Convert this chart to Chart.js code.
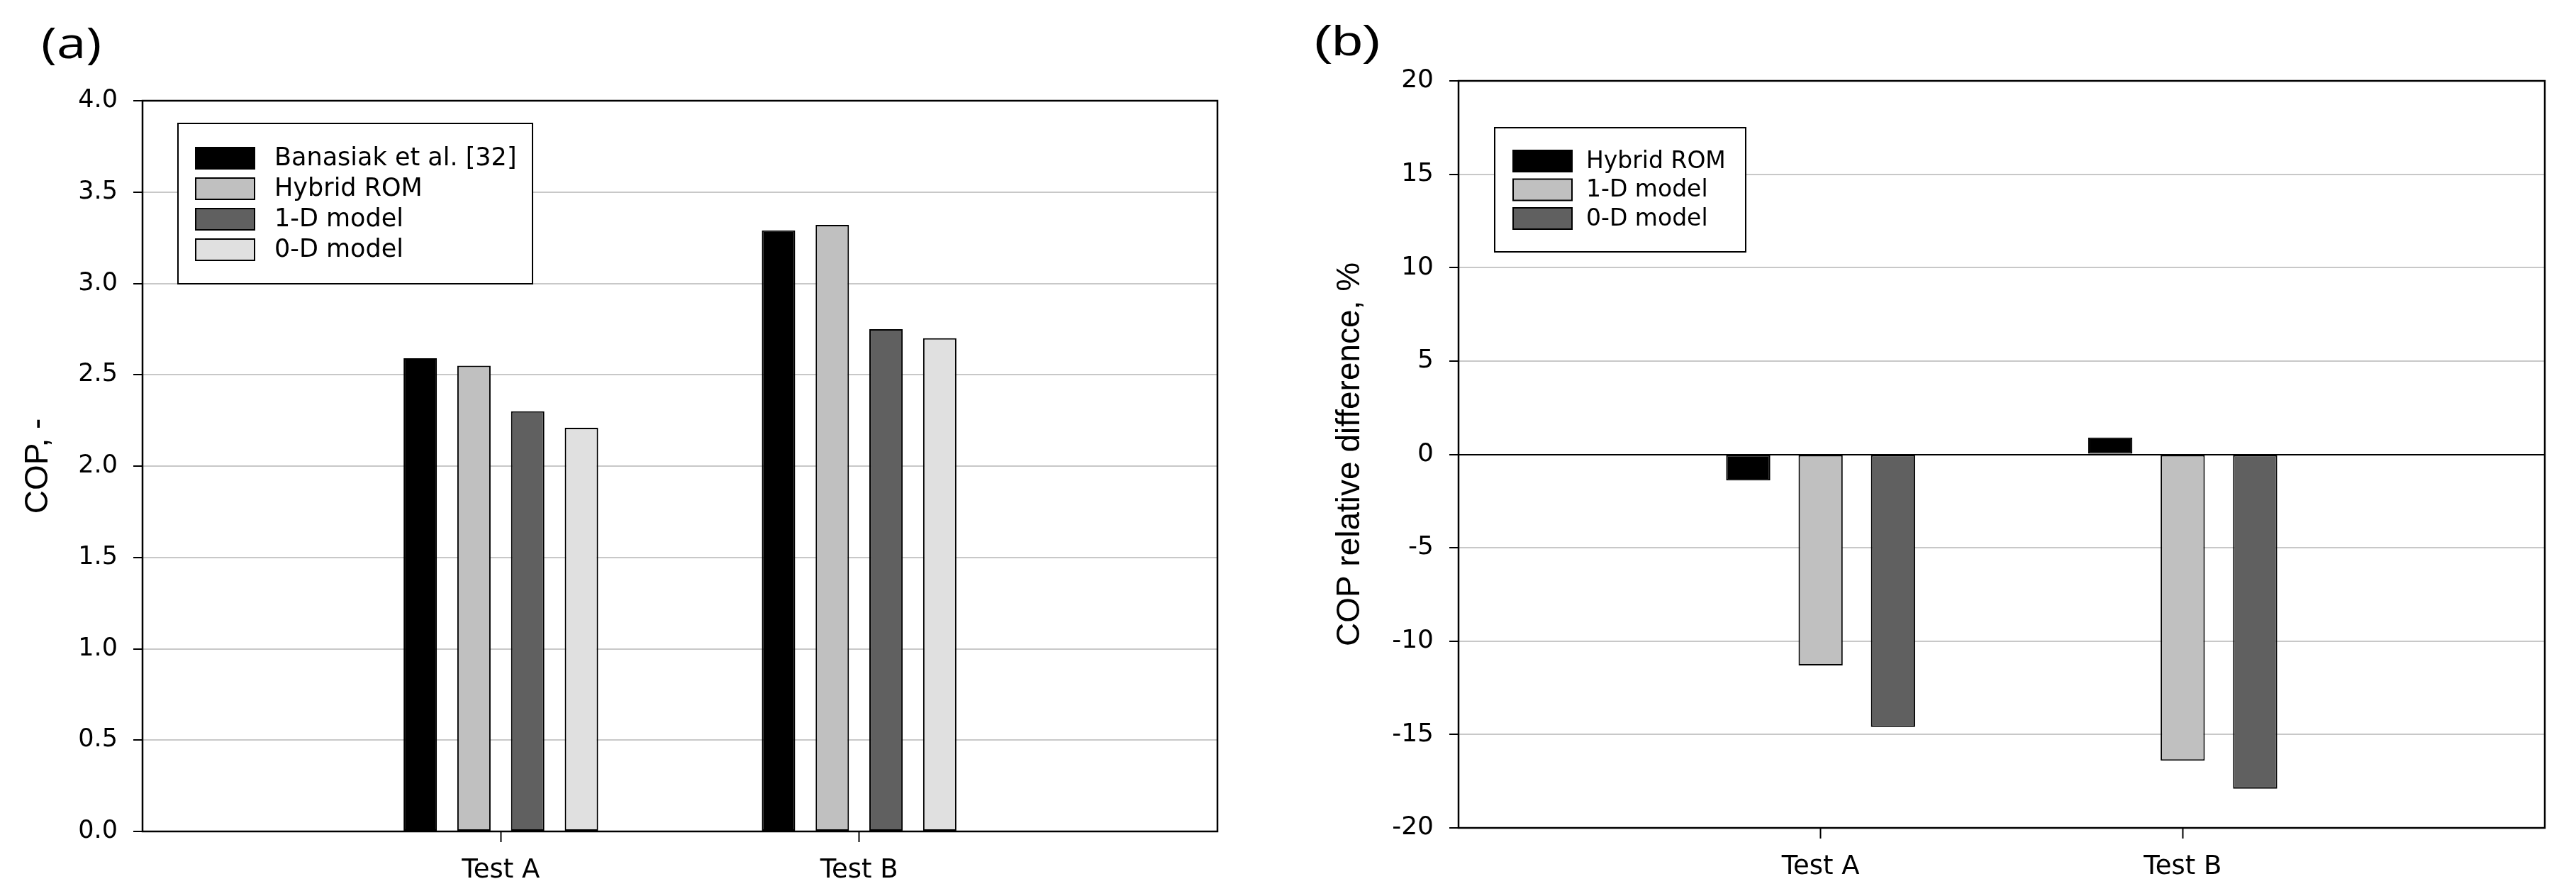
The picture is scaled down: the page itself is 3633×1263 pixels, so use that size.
<!DOCTYPE html>
<html>
<head>
<meta charset="utf-8">
<script src="https://cdn.jsdelivr.net/npm/chart.js@4.4.1/dist/chart.umd.min.js"></script>
<style>
  html, body { margin: 0; padding: 0; background: #fff; }
  #wrap { position: relative; width: 3633px; height: 1263px; }
  canvas { position: absolute; top: 0; }
</style>
</head>
<body>
<div id="wrap">
  <canvas id="chartA" width="1816" height="1263" style="left:0"></canvas>
  <canvas id="chartB" width="1817" height="1263" style="left:1816px"></canvas>
</div>
<script>
// data
const categories = ["Test A", "Test B"];

const seriesA = ["Banasiak et al. [32]", "Hybrid ROM", "1-D model", "0-D model"];
const copBanasiak = [2.59, 3.29];
const copHybrid = [2.55, 3.32];
const cop1D = [2.30, 2.75];
const cop0D = [2.21, 2.70];
const ticksA = [0, 0.5, 1.0, 1.5, 2.0, 2.5, 3.0, 3.5, 4.0];

const seriesB = ["Hybrid ROM", "1-D model", "0-D model"];
const diffHybrid = [-1.4, 0.9];
const diff1D = [-11.3, -16.4];
const diff0D = [-14.6, -17.9];
const ticksB = [-20, -15, -10, -5, 0, 5, 10, 15, 20];

// empty slots at both ends so the two groups sit at 1/3 and 2/3
const xLabels = ["", ...categories, ""];
const pad = arr => [null, ...arr, null];

const SANS = '"DejaVu Sans", "Liberation Sans", sans-serif';
Chart.defaults.font.family = SANS;
Chart.defaults.color = "#000";

// frame, legend box and panel letter
const panelDecor = {
  id: "panelDecor",
  afterDraw(chart, args, o) {
    const { ctx, chartArea: a } = chart;
    ctx.save();
    ctx.strokeStyle = "#000";
    ctx.lineWidth = 2.5;
    ctx.strokeRect(a.left, a.top, a.right - a.left, a.bottom - a.top);

    const bx = a.left + o.boxX, by = a.top + o.boxY;
    ctx.fillStyle = "#fff";
    ctx.fillRect(bx, by, o.boxW, o.boxH);
    ctx.lineWidth = 2;
    ctx.strokeRect(bx, by, o.boxW, o.boxH);
    ctx.font = o.fontSize + "px " + SANS;
    ctx.textBaseline = "middle";
    chart.data.datasets.forEach((ds, i) => {
      const y = by + o.rowTop + i * o.rowStep;
      ctx.fillStyle = ds.backgroundColor;
      ctx.fillRect(bx + o.swX, y, o.swW, o.swH);
      ctx.strokeRect(bx + o.swX, y, o.swW, o.swH);
      ctx.fillStyle = "#000";
      ctx.fillText(ds.label, bx + o.textX, y + o.swH / 2 + 1);
    });

    // panel letter, cut off top and bottom like the source figure
    ctx.beginPath();
    ctx.rect(0, o.tagClip[0], 400, o.tagClip[1] - o.tagClip[0]);
    ctx.clip();
    ctx.translate(o.tagX, o.tagY);
    ctx.scale(o.tagStretch, 1);
    ctx.font = o.tagFont;
    ctx.textBaseline = "alphabetic";
    ctx.fillText(o.tag, 0, 0);
    ctx.restore();
  }
};

function bar(label, values, color, barPct) {
  return {
    label: label,
    data: pad(values),
    backgroundColor: color,
    borderColor: "#000",
    borderWidth: 2,
    borderSkipped: false,
    categoryPercentage: 0.6,
    barPercentage: barPct
  };
}

function makeOptions(c) {
  return {
    responsive: false,
    maintainAspectRatio: false,
    devicePixelRatio: 1,
    animation: false,
    layout: { padding: { left: 0, top: c.top, right: c.right, bottom: 0 } },
    plugins: {
      legend: { display: false },
      tooltip: { enabled: false },
      panelDecor: c.decor
    },
    scales: {
      x: {
        offset: false,
        afterFit: s => { s.height = c.xHeight; },
        border: { display: false },
        grid: {
          offset: false,
          drawOnChartArea: false,
          tickLength: 15,
          tickWidth: 2,
          tickColor: ctx => (ctx.tick && ctx.tick.label) ? "#000" : "rgba(0,0,0,0)"
        },
        ticks: { font: { size: 37 }, padding: 18, maxRotation: 0, autoSkip: false }
      },
      y: {
        min: c.min,
        max: c.max,
        afterFit: s => { s.width = c.yWidth; },
        afterBuildTicks: s => { s.ticks = c.ticks.map(v => ({ value: v })); },
        border: { display: false },
        grid: {
          color: ctx => (ctx.tick && ctx.tick.value === 0 && c.min < 0) ? "#000" : "#c8c8c8",
          lineWidth: 2,
          tickColor: "#000",
          tickLength: 13,
          tickWidth: 2
        },
        ticks: { font: { size: c.tickSize }, padding: 22, callback: c.fmt },
        title: {
          display: true,
          text: c.title,
          font: { size: 46, family: '"Liberation Sans", Arial, sans-serif' },
          padding: { top: c.titlePad, bottom: 0 }
        }
      }
    }
  };
}

new Chart(document.getElementById("chartA"), {
  type: "bar",
  data: {
    labels: xLabels,
    datasets: [
      bar(seriesA[0], copBanasiak, "#000000", 0.62),
      bar(seriesA[1], copHybrid, "#c0c0c0", 0.62),
      bar(seriesA[2], cop1D, "#606060", 0.62),
      bar(seriesA[3], cop0D, "#e0e0e0", 0.62)
    ]
  },
  options: makeOptions({
    top: 142, right: 99, xHeight: 91, yWidth: 201,
    min: 0, max: 4, ticks: ticksA, fmt: v => Number(v).toFixed(1), tickSize: 35,
    title: "COP, -", titlePad: 27,
    decor: {
      boxX: 50, boxY: 32, boxW: 500, boxH: 226,
      swX: 25, swW: 83, swH: 30, rowTop: 34, rowStep: 43, textX: 136, fontSize: 35,
      tag: "(a)", tagFont: '60px "Open Sans", sans-serif', tagX: 58, tagY: 82,
      tagStretch: 1.24, tagClip: [28, 97]
    }
  }),
  plugins: [panelDecor]
});

new Chart(document.getElementById("chartB"), {
  type: "bar",
  data: {
    labels: xLabels,
    datasets: [
      bar(seriesB[0], diffHybrid, "#000000", 0.61),
      bar(seriesB[1], diff1D, "#c0c0c0", 0.61),
      bar(seriesB[2], diff0D, "#606060", 0.61)
    ]
  },
  options: makeOptions({
    top: 114, right: 44, xHeight: 96, yWidth: 241,
    min: -20, max: 20, ticks: ticksB, fmt: v => String(v), tickSize: 36,
    title: "COP relative difference, %", titlePad: 61,
    decor: {
      boxX: 51, boxY: 66, boxW: 354, boxH: 175,
      swX: 26, swW: 83, swH: 30, rowTop: 32, rowStep: 40.5, textX: 129, fontSize: 33,
      tag: "(b)", tagFont: '60px "Liberation Sans", Arial, sans-serif', tagX: 36, tagY: 78,
      tagStretch: 1.31, tagClip: [27, 92]
    }
  }),
  plugins: [panelDecor]
});
</script>
</body>
</html>
